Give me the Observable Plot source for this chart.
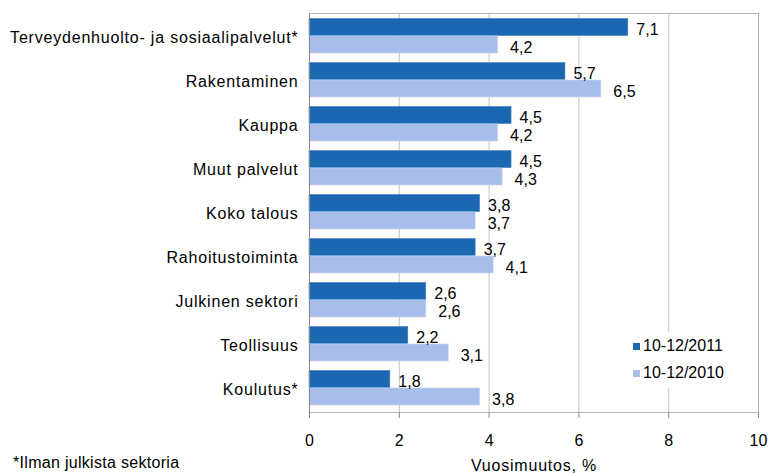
<!DOCTYPE html>
<html>
<head>
<meta charset="utf-8">
<script src="https://cdn.jsdelivr.net/npm/d3@7"></script>
<script src="https://cdn.jsdelivr.net/npm/@observablehq/plot@0.6"></script>
<style>
  html, body { margin: 0; padding: 0; background: #fff; }
  #wrap { position: relative; width: 771px; height: 473px; overflow: hidden; font-family: "Liberation Sans", Arial, sans-serif; }
  #legend { position: absolute; left: 598px; top: 332px; width: 152px; height: 56px; background: #fff; font-size: 16px; color: #000; }
  #legend .item { position: absolute; left: 35px; display: flex; align-items: center; white-space: nowrap; line-height: 18px; }
  #legend .sw { width: 7px; height: 7px; margin-right: 3px; }
  #caption { position: absolute; left: 13px; top: 455px; font-size: 16px; line-height: 16px; color: #000; white-space: nowrap; letter-spacing: 0.3px; }
  g[aria-label="y-axis tick label"] text { letter-spacing: 0.8px; }
  g[aria-label="x-axis label"] text { letter-spacing: 0.8px; }
</style>
</head>
<body>
<div id="wrap"></div>
<script>
const categories = [
  "Terveydenhuolto- ja sosiaalipalvelut*",
  "Rakentaminen",
  "Kauppa",
  "Muut palvelut",
  "Koko talous",
  "Rahoitustoiminta",
  "Julkinen sektori",
  "Teollisuus",
  "Koulutus*"
];
const series = ["10-12/2011", "10-12/2010"];
const values2011 = [7.1, 5.7, 4.5, 4.5, 3.8, 3.7, 2.6, 2.2, 1.8];
const values2010 = [4.2, 6.5, 4.2, 4.3, 3.7, 4.1, 2.6, 3.1, 3.8];
const colors = ["#1c67b1", "#a7bdea"];
const xTicks = [0, 2, 4, 6, 8, 10];
const xLabel = "Vuosimuutos, %";
const caption = "*Ilman julkista sektoria";

const d11 = categories.map((c, i) => ({cat: c, v: values2011[i]}));
const d10 = categories.map((c, i) => ({cat: c, v: values2010[i]}));
const fmt = v => v.toFixed(1).replace(".", ",");

const chart = Plot.plot({
  width: 771,
  height: 473,
  marginLeft: 309,
  marginRight: 13,
  marginTop: 13,
  marginBottom: 61,
  style: {fontFamily: "'Liberation Sans', Arial, sans-serif", fontSize: "16px", color: "#000", background: "#fff"},
  x: {domain: [0, 10], ticks: xTicks},
  y: {domain: categories, padding: 0},
  marks: [
    Plot.gridX(xTicks.slice(1, -1), {stroke: "#c4c4c4", strokeOpacity: 1}),
    Plot.frame({stroke: "#b4b4b4"}),
    Plot.barX(d11, {x: "v", y: "cat", fill: colors[0], stroke: "#3d7fc0", strokeWidth: 0.6, insetTop: 3.5, insetBottom: 23.5}),
    Plot.barX(d10, {x: "v", y: "cat", fill: colors[1], stroke: "#c2d2f2", strokeWidth: 0.6, insetTop: 21, insetBottom: 6}),
    Plot.text(d11, {x: "v", y: "cat", text: d => fmt(d.v), dx: 8, dy: -8, textAnchor: "start", fontSize: 16, fill: "#000"}),
    Plot.text(d10, {x: "v", y: "cat", text: d => fmt(d.v), dx: 12, dy: 10, textAnchor: "start", fontSize: 16, fill: "#000"}),
    Plot.ruleX([0], {stroke: "#8a8a8a"}),
    Plot.ruleY([0], {frameAnchor: "bottom", stroke: "#8a8a8a"}),
    Plot.axisY({tickSize: 0, tickPadding: 11, fontSize: 16, label: null}),
    Plot.axisX({ticks: xTicks, tickSize: 6, tickPadding: 16, fontSize: 16, stroke: "#8a8a8a", tickFormat: d => String(d),
      label: xLabel, labelAnchor: "center", labelArrow: "none", labelOffset: 58})
  ]
});

const wrap = document.getElementById("wrap");
wrap.appendChild(chart);

const legend = document.createElement("div");
legend.id = "legend";
series.forEach((s, i) => {
  const it = document.createElement("div");
  it.className = "item";
  it.style.top = (5 + i * 27) + "px";
  const sw = document.createElement("span");
  sw.className = "sw";
  sw.style.background = colors[i];
  const t = document.createElement("span");
  t.textContent = s;
  it.appendChild(sw); it.appendChild(t);
  legend.appendChild(it);
});
wrap.appendChild(legend);

const cap = document.createElement("div");
cap.id = "caption";
cap.textContent = caption;
wrap.appendChild(cap);
</script>
</body>
</html>
